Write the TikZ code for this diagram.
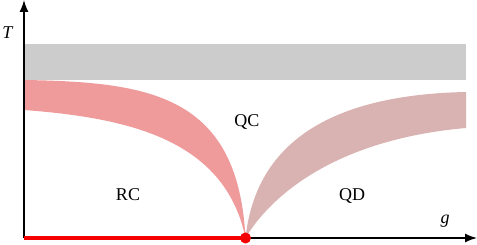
\documentclass[tikz,border=0pt]{standalone}
\usepackage{fontspec}
\setmainfont{Liberation Serif}
\usepackage{xcolor}
\usetikzlibrary{arrows.meta,positioning,calc}
\definecolor{BandGray}{RGB}{204,204,204}
\definecolor{BandRed}{RGB}{240,155,155}
\definecolor{BandRose}{RGB}{217,178,178}
\definecolor{LineRed}{RGB}{245,0,0}

\begin{document}
\begin{tikzpicture}[x=1pt, y=-1pt, every node/.style={font=\fontsize{18}{20}\selectfont}]
\useasboundingbox (0,0) rectangle (477,245);
\coordinate (O) at (24,238);
\coordinate (gmax) at (477,238);
\coordinate (Tmax) at (24,0);
\coordinate (gc) at (245.5,238);

% crossover bands
\fill[BandGray] (24,44) rectangle (466,80);
\fill[BandRed] (24,80) .. controls (150,82) and (238,95) .. (gc)
  .. controls (225,140) and (130,118) .. (24,110) -- cycle;
\fill[BandRose] (gc) .. controls (255,150) and (320,95) .. (466,92)
  -- (466,128) .. controls (330,140) and (268,200) .. (gc) -- cycle;

% axes
\draw[-{Latex[length=12pt,width=9pt]}, line width=1.4pt] (O) -- (gmax);
\draw[-{Latex[length=12pt,width=9pt]}, line width=1.4pt] (O) -- (Tmax);
\draw[LineRed, line width=4pt] (O) -- (gc);
\fill[LineRed] (gc) circle (5.5);

\node (T) at (8,33) {\textit{T}};
\node (g) at (445,221) {\textit{g}};
\node (RC) at (128,195) {RC};
\node (QC) at (247,122) {QC};
\node (QD) at (352,196) {QD};
\end{tikzpicture}
\end{document}
